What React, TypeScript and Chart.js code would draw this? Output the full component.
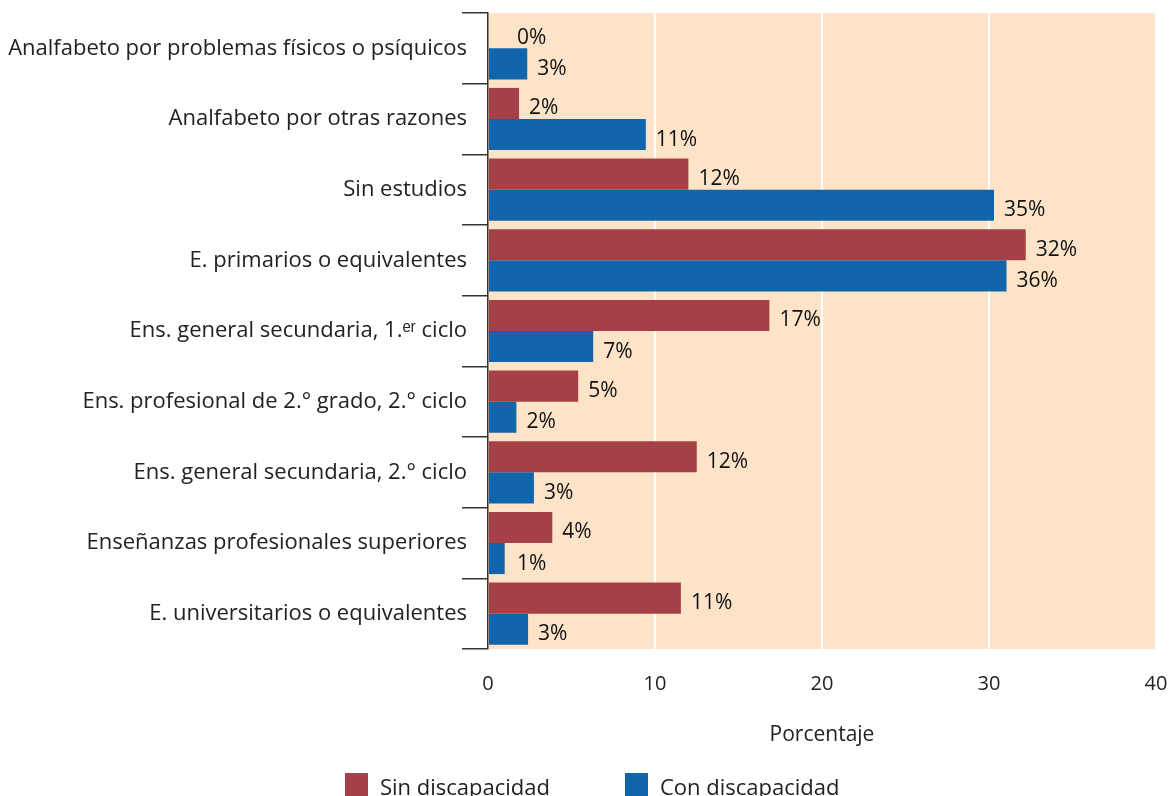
import React, { useEffect, useRef } from "react";
import { Chart, registerables } from "chart.js";

Chart.register(...registerables);

const categories = [
  "Analfabeto por problemas físicos o psíquicos",
  "Analfabeto por otras razones",
  "Sin estudios",
  "E. primarios o equivalentes",
  "Ens. general secundaria, 1.ᵉʳ ciclo",
  "Ens. profesional de 2.° grado, 2.° ciclo",
  "Ens. general secundaria, 2.° ciclo",
  "Enseñanzas profesionales superiores",
  "E. universitarios o equivalentes",
];

const seriesNames = ["Sin discapacidad", "Con discapacidad"];
const sinValues = [0, 1.86, 12.0, 32.2, 16.85, 5.4, 12.5, 3.85, 11.55];
const conValues = [2.35, 9.45, 30.3, 31.05, 6.3, 1.7, 2.75, 1.0, 2.4];
const sinLabels = ["0%", "2%", "12%", "32%", "17%", "5%", "12%", "4%", "11%"];
const conLabels = ["3%", "11%", "35%", "36%", "7%", "2%", "3%", "1%", "3%"];
const xMin = 0;
const xMax = 40;
const xStep = 10;
const xTitle = "Porcentaje";

const RED = "#A54146";
const BLUE = "#1166AB";
const BG = "#FDE4C9";
const TEXT = "#222222";
const FONT = "'Open Sans', 'Liberation Sans', Arial, sans-serif";

export default function App() {
  const ref = useRef<HTMLCanvasElement | null>(null);

  useEffect(() => {
    document.body.style.margin = "0";
    const canvas = ref.current;
    if (!canvas) return;
    const labelSets = [sinLabels, conLabels];

    const bgPlugin = {
      id: "bgPlugin",
      beforeDraw(chart: any) {
        const { ctx, chartArea } = chart;
        ctx.save();
        ctx.fillStyle = BG;
        ctx.fillRect(chartArea.left, chartArea.top, chartArea.right - chartArea.left, chartArea.bottom - chartArea.top);
        ctx.restore();
      },
    };

    const labelPlugin = {
      id: "labelPlugin",
      afterDatasetsDraw(chart: any) {
        const { ctx } = chart;
        const x0 = chart.scales.x.getPixelForValue(0);
        ctx.save();
        ctx.font = `21px ${FONT}`;
        ctx.fillStyle = "#111";
        ctx.textAlign = "left";
        ctx.textBaseline = "middle";
        chart.data.datasets.forEach((ds: any, di: number) => {
          const meta = chart.getDatasetMeta(di);
          meta.data.forEach((bar: any, i: number) => {
            const x = Math.max(bar.x, x0 + 19) + 10;
            ctx.fillText(labelSets[di][i], x, bar.y + 5);
          });
        });
        ctx.restore();
      },
    };

    const legendPlugin = {
      id: "legendPlugin",
      afterDraw(chart: any) {
        const { ctx } = chart;
        const items = [
          { x: 345, color: RED, text: seriesNames[0] },
          { x: 625, color: BLUE, text: seriesNames[1] },
        ];
        ctx.save();
        ctx.font = `22px ${FONT}`;
        ctx.textBaseline = "alphabetic";
        items.forEach((it) => {
          ctx.fillStyle = it.color;
          ctx.fillRect(it.x, 773, 23, 24);
          ctx.fillStyle = TEXT;
          ctx.fillText(it.text, it.x + 35, 795);
        });
        ctx.restore();
      },
    };

    const chart = new Chart(canvas, {
      type: "bar",
      data: {
        labels: categories,
        datasets: [
          { label: seriesNames[0], data: sinValues, backgroundColor: RED, categoryPercentage: 0.88, barPercentage: 1.0 },
          { label: seriesNames[1], data: conValues, backgroundColor: BLUE, categoryPercentage: 0.88, barPercentage: 1.0 },
        ],
      },
      options: {
        indexAxis: "y",
        animation: false,
        responsive: true,
        maintainAspectRatio: false,
        layout: { padding: { top: 13, right: 15, left: 0, bottom: 0 } },
        plugins: { legend: { display: false }, tooltip: { enabled: false } },
        scales: {
          x: {
            type: "linear",
            min: xMin,
            max: xMax,
            ticks: { stepSize: xStep, padding: 23, color: TEXT, font: { family: FONT, size: 20 } },
            grid: {
              drawTicks: false,
              lineWidth: 2,
              color: (c: any) => (c.tick && c.tick.value === 0 ? "rgba(0,0,0,0)" : "#ffffff"),
            },
            border: { display: false },
            title: {
              display: true,
              text: xTitle,
              color: TEXT,
              font: { family: FONT, size: 21 },
              padding: { top: 0, bottom: 48 },
            },
            afterFit(scale: any) {
              scale.height = 147;
              scale.paddingLeft = 0;
              scale.paddingRight = 0;
            },
          },
          y: {
            type: "category",
            offset: true,
            grid: { offset: true, drawOnChartArea: false, tickLength: 26, color: "#333", lineWidth: 1.5 },
            border: { display: true, color: "#333", width: 1.5 },
            ticks: { padding: -5, color: TEXT, font: { family: FONT, size: 22 } },
            afterFit(scale: any) {
              scale.width = 488;
            },
          },
        },
      },
      plugins: [bgPlugin, labelPlugin, legendPlugin],
    });

    return () => chart.destroy();
  }, []);

  return (
    <div style={{ width: 1171, height: 796, position: "relative" }}>
      <canvas ref={ref} />
    </div>
  );
}
